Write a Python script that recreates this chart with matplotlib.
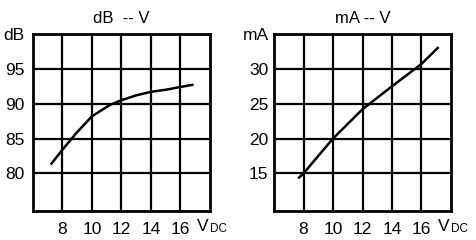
import matplotlib
matplotlib.use('Agg')
import matplotlib.pyplot as plt

# Data
volts_db = [7.25, 8.0, 8.9, 10.0, 11.2, 12.0, 13.0, 14.0, 15.0, 16.0, 16.8]
db = [81.4, 83.4, 85.7, 88.2, 89.8, 90.5, 91.2, 91.7, 92.0, 92.4, 92.7]

volts_ma = [7.7, 8.0, 10.0, 12.0, 14.0, 16.0, 17.1]
ma = [14.4, 15.0, 20.0, 24.2, 27.5, 30.7, 33.0]

x_ticks = [8, 10, 12, 14, 16]
db_ticks = [80, 85, 90, 95, 100]
db_labels = ['80', '85', '90', '95', 'dB']
ma_ticks = [15, 20, 25, 30, 35]
ma_labels = ['15', '20', '25', '30', 'mA']

plt.rcParams['font.family'] = ['Liberation Sans', 'DejaVu Sans']

fig = plt.figure(figsize=(4.77, 2.4), dpi=100)
ax1 = fig.add_axes([33 / 477, 29 / 240, 177 / 477, 177 / 240])
ax2 = fig.add_axes([274 / 477, 29 / 240, 177 / 477, 177 / 240])


def style(ax, yticks, ylabels, ylim, title, ypad):
    ax.set_xlim(6, 18)
    ax.set_ylim(*ylim)
    ax.set_xticks(x_ticks)
    ax.set_xticklabels([str(t) for t in x_ticks], fontsize=12.5)
    ax.set_yticks(yticks)
    ax.set_yticklabels(ylabels, fontsize=12.5)
    ax.tick_params(length=0, pad=ypad)
    ax.tick_params(axis='x', pad=8)
    ax.grid(True, color='black', linewidth=1.6)
    for s in ax.spines.values():
        s.set_linewidth(2)
        s.set_color('black')
    ax.set_title(title, fontsize=12, pad=8)
    # V_DC axis label
    ax.text(0.925, -0.09, 'V', transform=ax.transAxes, fontsize=12.5,
            ha='left', va='center')
    ax.text(1.0, -0.103, 'DC', transform=ax.transAxes, fontsize=8.5,
            ha='left', va='center')


style(ax1, db_ticks, db_labels, (74.6, 100), 'dB  -- V', 6)
ax1.plot(volts_db, db, color='black', linewidth=1.8)

style(ax2, ma_ticks, ma_labels, (9.6, 35), 'mA -- V', 4)
ax2.plot(volts_ma, ma, color='black', linewidth=1.8)

fig.savefig('out.png', dpi=100)
